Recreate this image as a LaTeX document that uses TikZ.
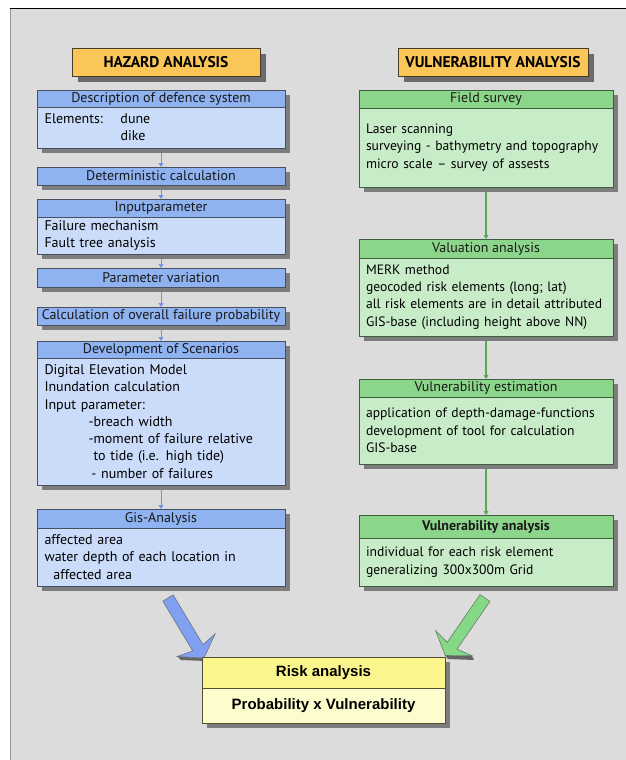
\documentclass[tikz,border=0pt]{standalone}
\usepackage{fontspec}
\setmainfont{PT Sans}
\newfontfamily\riskfont{Liberation Sans}
\usetikzlibrary{shadows,arrows.meta}

\definecolor{pagegray}{RGB}{220,220,220}
\definecolor{edgegray}{RGB}{150,150,150}
\definecolor{shadowgray}{RGB}{125,125,125}
\definecolor{hdrfill}{RGB}{250,198,88}
\definecolor{hdrline}{RGB}{70,60,40}
\definecolor{bline}{RGB}{70,80,95}
\definecolor{btitlefill}{RGB}{143,178,240}
\definecolor{bbodyfill}{RGB}{203,220,250}
\definecolor{barrowc}{RGB}{120,145,230}
\definecolor{gline}{RGB}{60,95,60}
\definecolor{gtitlefill}{RGB}{140,214,140}
\definecolor{gbodyfill}{RGB}{200,236,200}
\definecolor{garrowc}{RGB}{85,170,85}
\definecolor{yline}{RGB}{80,80,50}
\definecolor{ytitlefill}{RGB}{250,245,140}
\definecolor{ybodyfill}{RGB}{252,252,205}

\tikzset{
  every node/.style={inner sep=0pt, outer sep=0pt},
  shadowed/.style={drop shadow={shadow xshift=5pt, shadow yshift=-5pt,
      fill=shadowgray, opacity=1}},
  header/.style={drop shadow={shadow xshift=6pt, shadow yshift=-6pt,
      fill=shadowgray!85!black, opacity=1},
    draw=hdrline, line width=0.8pt, fill=hdrfill, anchor=north west,
    minimum width=188pt, minimum height=28pt,
    font=\bfseries\fontsize{15.5}{17}\selectfont},
  titlebar/.style={shadowed, anchor=north west, line width=0.6pt,
    font=\fontsize{14}{16}\selectfont, text=black!90},
  bodybox/.style={shadowed, anchor=north west, line width=0.6pt,
    align=left, inner xsep=7.5pt, font=\fontsize{14}{17.3}\selectfont},
  bt/.style={titlebar, draw=bline, fill=btitlefill, minimum width=248pt},
  bb/.style={bodybox, draw=bline, fill=bbodyfill, text width=233pt},
  gt/.style={titlebar, draw=gline, fill=gtitlefill, minimum width=254pt},
  gb/.style={bodybox, draw=gline, fill=gbodyfill, text width=240pt,
    inner xsep=7pt, font=\fontsize{13.6}{17.3}\selectfont},
  bflow/.style={draw=barrowc, line width=1pt, shorten <=5pt,
    -{Triangle[width=5pt,length=4pt]}},
  gflow/.style={draw=garrowc, line width=1.1pt, shorten <=5pt,
    -{Triangle[width=5pt,length=4pt]}},
  bigblue/.style={fill=btitlefill!90!blue, draw=bline!80, line width=0.6pt},
  biggreen/.style={fill=gtitlefill!95!green, draw=gline!80, line width=0.6pt},
  bigshadow/.style={fill=shadowgray!80!black, draw=none},
}

\begin{document}
\begin{tikzpicture}[x=1pt, y=-1pt]
  % page and frame
  \useasboundingbox (0,0) rectangle (626,760);
  \fill[white] (0,0) rectangle (626,760);
  \fill[pagegray] (11,9) rectangle (626,760);
  \draw[edgegray, line width=1.2pt] (10.6,9) -- (10.6,760);
  \draw[black, line width=1.6pt] (10,8.5) -- (626,8.5);

  % column headers
  \node[header] (haz) at (72,48) {HAZARD ANALYSIS};
  \node[header, minimum width=190pt] (vul) at (398,48) {VULNERABILITY ANALYSIS};

  % hazard chain
  \node[bt, minimum height=17pt] (desc) at (37,90) {Description of defence system};
  \node[bb, minimum height=41pt] (descb) at (37,107)
    {\makebox[76pt][l]{Elements:}dune\\\hspace*{76pt}dike};
  \node[bt, minimum height=18pt] (det) at (37,167) {Deterministic calculation};
  \node[bt, minimum height=18pt] (inp) at (37,199) {Inputparameter};
  \node[bb, minimum height=37pt] (inpb) at (37,217)
    {Failure mechanism\\Fault tree analysis};
  \node[bt, minimum height=19pt] (par) at (37,268) {Parameter variation};
  \node[bt, minimum height=18pt] (calc) at (37,307)
    {Calculation of overall failure probability};
  \node[bt, minimum height=17pt] (dev) at (37,341) {Development of Scenarios};
  \node[bb, minimum height=127pt] (devb) at (37,358)
    {Digital Elevation Model\\
     Inundation calculation\\
     Input parameter:\\
     \hspace*{44pt}-breach width\\
     \hspace*{44pt}-moment of failure relative\\
     \hspace*{49pt}to tide (i.e. high tide)\\
     \hspace*{47pt}- number of failures};
  \node[bt, minimum height=19pt] (gis) at (37,509) {Gis-Analysis};
  \node[bb, minimum height=58pt] (gisb) at (37,528)
    {affected area\\
     water depth of each location in\\
     \hspace*{9pt}affected area};

  \draw[bflow] (descb.south) -- (det.north);
  \draw[bflow] (det.south) -- (inp.north);
  \draw[bflow] (inpb.south) -- (par.north);
  \draw[bflow] (par.south) -- (calc.north);
  \draw[bflow] (calc.south) -- (dev.north);
  \draw[bflow] (devb.south) -- (gis.north);

  % vulnerability chain
  \node[gt, minimum height=18pt] (fld) at (359,90) {Field survey};
  \node[gb, minimum height=79pt] (fldb) at (359,108)
    {Laser scanning\\
     surveying - bathymetry and topography\\
     micro scale -- survey of assests};
  \node[gt, minimum height=19pt] (val) at (359,239) {Valuation analysis};
  \node[gb, minimum height=78pt] (valb) at (359,258)
    {MERK method\\
     geocoded risk elements (long; lat)\\
     \mbox{all risk elements are in detail attributed}\\
     GIS-base (including height above NN)};
  \node[gt, minimum height=18pt] (est) at (359,379) {Vulnerability estimation};
  \node[gb, minimum height=67pt] (estb) at (359,397)
    {application of depth-damage-functions\\
     development of tool for calculation\\
     GIS-base};
  \node[gt, minimum height=23pt, font=\bfseries\fontsize{14}{16}\selectfont]
    (ana) at (359,515) {Vulnerability analysis};
  \node[gb, minimum height=48pt] (anab) at (359,538)
    {individual for each risk element\\
     generalizing 300x300m Grid};

  \draw[gflow] (fldb.south) -- (val.north);
  \draw[gflow] (valb.south) -- (est.north);
  \draw[gflow] (estb.south) -- (ana.north);

  % block arrows into the result
  \fill[bigshadow] (177.3,656.5) -- (181,660) -- (206,661) -- (203.9,658.1) -- cycle;
  \filldraw[bigblue] (173.1,594.9) -- (203.0,644.7) -- (215.1,633.9)
    -- (203.9,658.1) -- (177.3,656.5) -- (192.7,650.9) -- (162.9,601.1) -- cycle;
  \fill[bigshadow] (471.9,655.7) -- (474,660) -- (448,659) -- (445.2,655.5) -- cycle;
  \filldraw[biggreen] (480.1,594.6) -- (447.2,642.3) -- (435.7,630.7)
    -- (445.2,655.5) -- (471.9,655.7) -- (457.0,649.1) -- (489.9,601.4) -- cycle;

  % result
  \node[titlebar, draw=yline, fill=ytitlefill, minimum width=243pt,
    minimum height=31pt, text=black, font=\riskfont\bfseries\fontsize{15}{17}\selectfont]
    (risk) at (202,657) {Risk analysis};
  \node[titlebar, draw=yline, fill=ybodyfill, minimum width=243pt,
    minimum height=35pt, text=black, font=\riskfont\bfseries\fontsize{15}{17}\selectfont]
    (riskb) at (202,688) {Probability x Vulnerability};
\end{tikzpicture}
\end{document}
